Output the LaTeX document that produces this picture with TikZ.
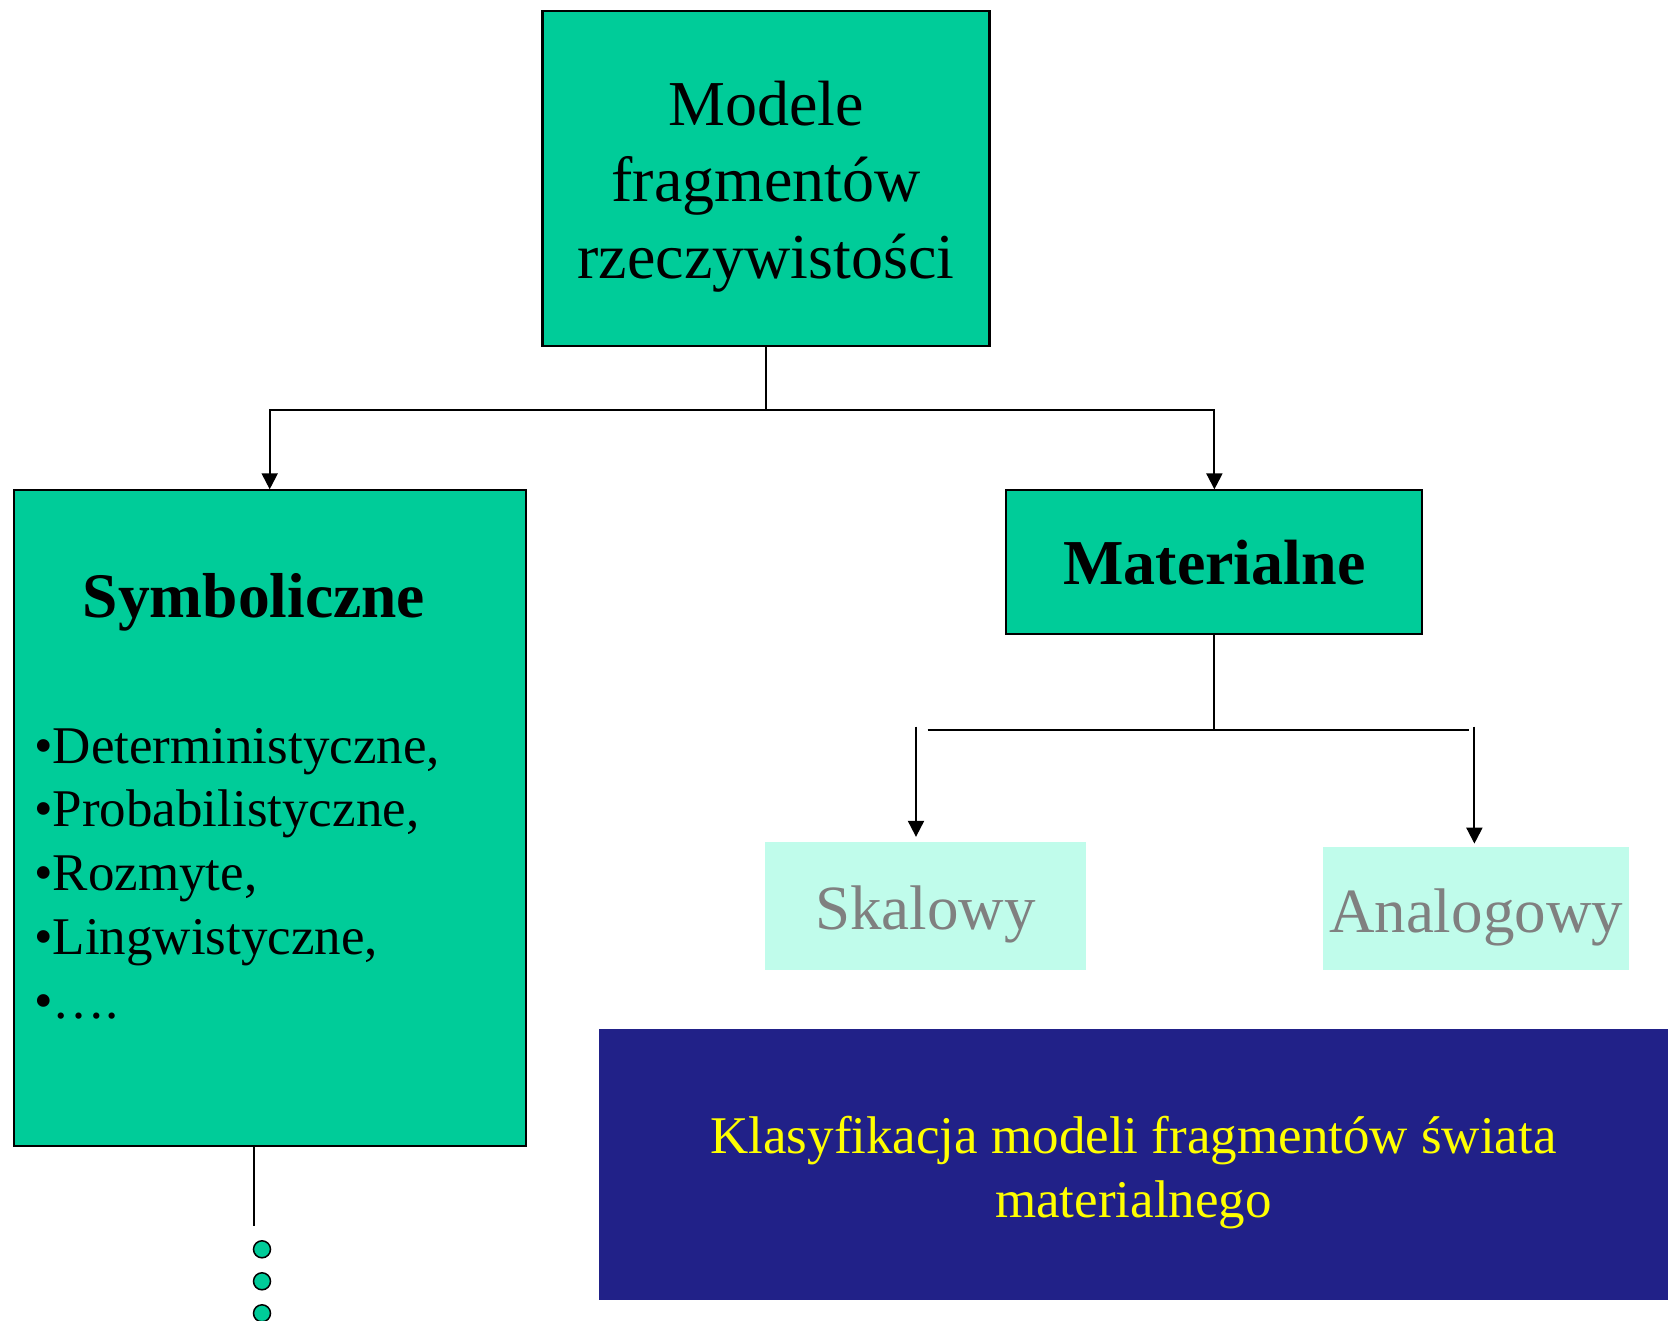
\documentclass[tikz,border=0pt]{standalone}
\usepackage{fontspec}
\setmainfont{Liberation Serif}
\usetikzlibrary{arrows.meta,positioning,calc}
\definecolor{zie}{HTML}{00CC99}
\definecolor{jas}{HTML}{C0FCEB}
\definecolor{gra}{HTML}{212188}
\definecolor{zol}{HTML}{FFFF00}
\definecolor{szar}{HTML}{808080}
\newcommand{\duzy}{\fontsize{64}{76.6}\selectfont}
\newcommand{\sredni}{\fontsize{53}{63.8}\selectfont}

\begin{document}
\begin{tikzpicture}[x=1pt,y=-1pt,
  box/.style={draw=black,line width=2.1pt,fill=zie,inner sep=0pt},
  jasny/.style={fill=jas,inner sep=0pt},
  napis/.style={text=szar,inner sep=0pt,font=\fontsize{63}{75}\selectfont},
  conn/.style={line width=2.1pt},
  arr/.style={conn,-{Triangle[length=16pt,width=16pt]}},
  kropka/.style={circle,draw=black,line width=1.5pt,fill=zie,minimum size=17pt,inner sep=0pt}]
  \useasboundingbox (0,0) rectangle (1668,1321);
  % drzewo: gora
  \node[box,minimum width=447pt,minimum height=335pt] (model) at (766,178.2) {};
  \node[align=center,font=\duzy,inner sep=0pt] (modeltxt) at ([yshift=-8.5pt]model.center) {Modele\\fragmentów\\rzeczywistości};
  \node[box,minimum width=511.7pt,minimum height=655.3pt] (symb) at (269.7,818) {};
  \node[anchor=base,font=\fontsize{63.5}{76}\selectfont\bfseries] (symbtyt) at (254,617) {Symboliczne};
  \foreach \t [count=\i] in {{Deterministyczne,},{Probabilistyczne,},{Rozmyte,},{Lingwistyczne,},{….}} {
    \node[anchor=base west,font=\sredni,inner sep=0pt] (poz\i) at (34,{763+63.8*(\i-1)}) {•\t};}
  \node[box,minimum width=416pt,minimum height=143.6pt,font=\duzy\bfseries] (mat) at (1214.4,562.2) {Materialne};
  \node[jasny,minimum width=321.2pt,minimum height=128.7pt] (skal) at (925.5,905.9) {};
  \node[napis] (skaltxt) at ([yshift=-8.5pt]skal.center) {Skalowy};
  \node[jasny,minimum width=305.3pt,minimum height=123.4pt] (anal) at (1476,908.5) {};
  \node[napis] (analtxt) at ([yshift=-8.5pt]anal.center) {Analogowy};
  \node[fill=gra,minimum width=1069pt,minimum height=271.3pt] (klas) at (1133.5,1164.4) {};
  \node[text=zol,align=center,font=\sredni,inner sep=0pt] (klastxt) at ([yshift=-8.5pt]klas.center) {Klasyfikacja modeli fragmentów świata\\materialnego};
  % laczniki
  \coordinate (rozw) at (766,409.6);
  \draw[conn] (model.south) -- (rozw);
  \draw[arr] (rozw) -| (symb.north);
  \draw[arr] (rozw) -| (mat.north);
  \coordinate (lp) at (927.6,729.8);
  \coordinate (pp) at (1469.1,729.8);
  \draw[conn] (mat.south) -- (mat.south |- lp);
  \draw[conn] (lp) -- (pp);
  \coordinate (sl) at (916,726.6);
  \coordinate (sp) at (1474.4,726.6);
  \draw[arr,shorten >=4.5pt] (sl) -- (sl |- skal.north);
  \draw[arr,shorten >=3pt] (sp) -- (sp |- anal.north);
  \coordinate (ogon) at (254,1226);
  \draw[conn] (ogon |- symb.south) -- (ogon);
  \foreach \i in {1,2,3}
    \node[kropka] (kr\i) at (262,{1249.3+32*(\i-1)}) {};
\end{tikzpicture}
\end{document}
